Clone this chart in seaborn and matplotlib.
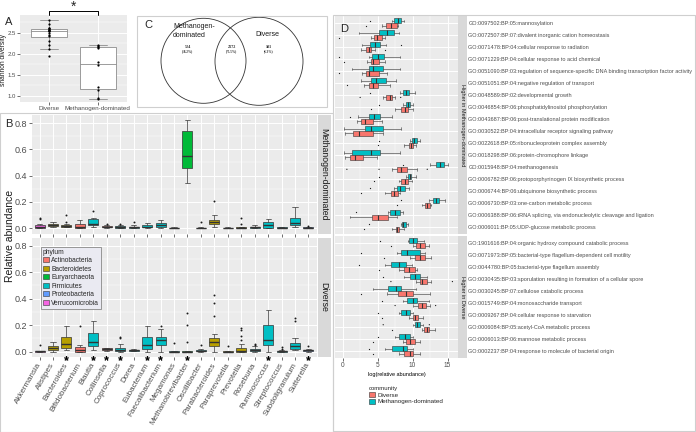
import pandas as pd
import matplotlib
matplotlib.use("Agg")
import matplotlib.pyplot as plt
import matplotlib.transforms as mtransforms
import seaborn as sns
from matplotlib.patches import Patch, Circle, Rectangle
from matplotlib.ticker import MultipleLocator

W, H = 696, 432

# ---------------- panel A : shannon diversity ----------------
shannon_groups = ["Diverse", "Methanogen-dominated"]
shannon_diverse = [2.79, 2.70, 2.62, 2.60, 2.58, 2.57, 2.56, 2.55, 2.54, 2.49,
                   2.44, 2.42, 2.31, 2.21, 2.12, 1.94]
shannon_methano = [2.21, 2.19, 2.15, 2.14, 1.81, 1.72, 1.20, 1.13, 0.94, 0.93]

# ---------------- panel C : venn ----------------
venn_counts = ["524", "2172", "181"]
venn_pcts = ["(18.2%)", "(75.5%)", "(6.3%)"]

# ---------------- panel B : genus abundance ----------------
genera = ["Akkermansia", "Alistipes", "Bacteroides", "Bifidobacterium", "Blautia",
          "Collinsella", "Coprococcus", "Dorea", "Eubacterium", "Faecalibacterium",
          "Megamonas", "Methanobrevibacter", "Oscillibacter", "Parabacteroides",
          "Paraprevotella", "Prevotella", "Roseburia", "Ruminococcus",
          "Streptococcus", "Subdoligranulum", "Sutterella"]
genus_phylum = ["Verrucomicrobia", "Bacteroidetes", "Bacteroidetes", "Actinobacteria",
                "Firmicutes", "Actinobacteria", "Firmicutes", "Firmicutes", "Firmicutes",
                "Firmicutes", "Firmicutes", "Euryarchaeota", "Firmicutes", "Bacteroidetes",
                "Bacteroidetes", "Bacteroidetes", "Firmicutes", "Firmicutes", "Firmicutes",
                "Firmicutes", "Proteobacteria"]
phyla = ["Actinobacteria", "Bacteroidetes", "Euryarchaeota", "Firmicutes",
         "Proteobacteria", "Verrucomicrobia"]
phylum_colors = ["#F8766D", "#B79F00", "#00BA38", "#00BFC4", "#619CFF", "#F564E3"]
signif_genera = ["Bacteroides", "Blautia", "Collinsella", "Coprococcus", "Eubacterium",
                 "Faecalibacterium", "Methanobrevibacter", "Ruminococcus", "Sutterella"]

# [min, q1, median, q3, max] per genus, methanogen-dominated samples
md_box = [[0, 0.003, 0.01, 0.02, 0.03], [0.01, 0.015, 0.02, 0.03, 0.05],
          [0.005, 0.01, 0.015, 0.02, 0.03], [0, 0.002, 0.01, 0.03, 0.06],
          [0.01, 0.02, 0.03, 0.07, 0.08], [0.002, 0.005, 0.01, 0.015, 0.02],
          [0, 0.002, 0.005, 0.015, 0.02], [0, 0.001, 0.005, 0.01, 0.02],
          [0, 0.005, 0.01, 0.02, 0.04], [0, 0.01, 0.025, 0.04, 0.065],
          [0, 0, 0.001, 0.003, 0.005], [0.34, 0.46, 0.55, 0.74, 0.82],
          [0, 0, 0.002, 0.004, 0.006], [0.01, 0.03, 0.045, 0.06, 0.1],
          [0, 0, 0.001, 0.003, 0.006], [0, 0, 0.002, 0.005, 0.01],
          [0, 0.002, 0.005, 0.01, 0.02], [0, 0.002, 0.025, 0.05, 0.07],
          [0, 0, 0.002, 0.005, 0.008], [0.01, 0.02, 0.04, 0.08, 0.16],
          [0, 0.002, 0.004, 0.008, 0.01]]
md_out = [[0.07, 0.08], [], [0.05, 0.1], [], [0.13], [0.03], [0.03], [0.05], [], [],
          [], [], [0.05], [0.21], [], [0.03, 0.08], [], [], [], [], [0.015]]
# diverse samples
dv_box = [[0, 0, 0.001, 0.002, 0.004], [0, 0.01, 0.025, 0.045, 0.075],
          [0.01, 0.03, 0.055, 0.11, 0.19], [0, 0, 0.01, 0.035, 0.05],
          [0.01, 0.04, 0.075, 0.14, 0.23], [0.005, 0.01, 0.02, 0.025, 0.03],
          [0, 0.002, 0.015, 0.03, 0.06], [0.002, 0.005, 0.01, 0.015, 0.02],
          [0, 0.02, 0.05, 0.11, 0.19], [0, 0.05, 0.085, 0.11, 0.17],
          [0, 0, 0, 0.001, 0.002], [0, 0, 0, 0.001, 0.002],
          [0, 0.001, 0.005, 0.01, 0.02], [0, 0.04, 0.075, 0.1, 0.13],
          [0, 0, 0, 0.001, 0.002], [0, 0, 0.005, 0.03, 0.06],
          [0, 0.005, 0.01, 0.02, 0.04], [0, 0.05, 0.085, 0.2, 0.31],
          [0, 0, 0.002, 0.005, 0.01], [0.01, 0.02, 0.04, 0.065, 0.1],
          [0, 0.005, 0.01, 0.015, 0.02]]
dv_out = [[0.05], [], [], [0.19], [], [], [0.1, 0.11], [], [], [0.19], [0.065],
          [0.07, 0.2, 0.29], [0.05], [0.27, 0.37, 0.43], [0.04],
          [0.09, 0.12, 0.16, 0.18], [0.05, 0.06], [], [0.02, 0.035], [0.23, 0.25], [0.04]]

# ---------------- panel D : GO terms ----------------
communities = ["Methanogen-dominated", "Diverse"]
comm_colors = {"Diverse": "#F8766D", "Methanogen-dominated": "#00BFC4"}

go_up_md = ["GO:0097502:BP:05:mannosylation",
            "GO:0072507:BP:07:divalent inorganic cation homeostasis",
            "GO:0071478:BP:04:cellular response to radiation",
            "GO:0071229:BP:04:cellular response to acid chemical",
            "GO:0051090:BP:03:regulation of sequence-specific DNA binding transcription factor activity",
            "GO:0051051:BP:04:negative regulation of transport",
            "GO:0048589:BP:02:developmental growth",
            "GO:0046854:BP:06:phosphatidylinositol phosphorylation",
            "GO:0043687:BP:06:post-translational protein modification",
            "GO:0030522:BP:04:intracellular receptor signaling pathway",
            "GO:0022618:BP:05:ribonucleoprotein complex assembly",
            "GO:0018298:BP:06:protein-chromophore linkage",
            "GO:0015948:BP:04:methanogenesis",
            "GO:0006782:BP:06:protoporphyrinogen IX biosynthetic process",
            "GO:0006744:BP:06:ubiquinone biosynthetic process",
            "GO:0006730:BP:03:one-carbon metabolic process",
            "GO:0006388:BP:06:tRNA splicing, via endonucleolytic cleavage and ligation",
            "GO:0006011:BP:05:UDP-glucose metabolic process"]
go_up_md_meth = [[7.1, 7.3, 7.9, 8.4, 8.8], [2.4, 5.2, 6.3, 7.3, 8.1], [2.8, 3.9, 4.6, 5.4, 6.2],
                 [3.8, 4.2, 5.1, 5.95, 8.2], [1.4, 3.7, 4.4, 5.7, 8.2], [2.6, 4.0, 4.8, 6.2, 7.6],
                 [8.2, 8.6, 9.0, 9.5, 10.4], [8.7, 9.0, 9.3, 9.6, 10.1], [2.2, 3.8, 4.5, 5.3, 7.0],
                 [0.2, 3.2, 4.0, 5.8, 8.4], [9.6, 9.9, 10.2, 10.6, 11.1], [0.2, 1.4, 4.05, 5.3, 8.2],
                 [12.5, 13.3, 13.9, 14.5, 15.0], [9.0, 9.3, 9.6, 9.8, 10.5], [7.3, 7.7, 8.2, 8.9, 9.5],
                 [12.4, 12.9, 13.3, 13.8, 14.6], [6.5, 6.8, 7.5, 8.2, 8.6], [8.3, 8.5, 8.7, 9.0, 9.4]]
go_up_md_div = [[5.6, 6.2, 6.9, 7.7, 7.9], [4.1, 4.5, 4.9, 5.6, 6.0], [2.6, 3.3, 3.7, 4.1, 4.6],
                [3.5, 4.0, 4.4, 5.2, 6.0], [2.7, 3.3, 3.8, 5.2, 6.4], [3.0, 3.7, 4.3, 5.0, 6.8],
                [5.8, 6.2, 6.7, 7.1, 7.5], [7.5, 8.4, 8.9, 9.4, 10.1], [2.0, 2.6, 3.2, 4.3, 5.6],
                [0.3, 1.5, 2.4, 4.4, 5.8], [8.8, 9.5, 9.8, 10.1, 10.5], [0.3, 1.0, 1.8, 2.9, 4.9],
                [7.0, 7.7, 8.3, 9.2, 10.7], [8.0, 8.3, 8.9, 9.4, 9.9], [6.0, 6.9, 7.3, 7.9, 8.2],
                [11.4, 11.8, 12.1, 12.5, 12.6], [1.0, 4.2, 5.1, 6.5, 7.7], [7.0, 7.6, 7.8, 8.0, 8.8]]
go_up_md_meth_out = [[3.9], [], [8.4], [-0.5], [], [], [3.9], [5.2], [1.0], [], [5.2], [],
                     [8.7], [5.2], [3.9], [8.3], [1.9], [3.8]]
go_up_md_div_out = [[3.4], [-0.5], [6.0], [0.2], [-0.5], [0.6], [2.5, 8.3], [4.1], [], [], [5.1], [],
                    [0.6, 5.2, 12.1], [4.5], [2.6], [7.7], [], [3.0]]

go_up_dv = ["GO:1901616:BP:04:organic hydroxy compound catabolic process",
            "GO:0071973:BP:05:bacterial-type flagellum-dependent cell motility",
            "GO:0044780:BP:05:bacterial-type flagellum assembly",
            "GO:0030435:BP:03:sporulation resulting in formation of a cellular spore",
            "GO:0030245:BP:07:cellulose catabolic process",
            "GO:0015749:BP:04:monosaccharide transport",
            "GO:0009267:BP:04:cellular response to starvation",
            "GO:0006084:BP:05:acetyl-CoA metabolic process",
            "GO:0006013:BP:06:mannose metabolic process",
            "GO:0002237:BP:04:response to molecule of bacterial origin"]
go_up_dv_meth = [[9.4, 9.5, 10.0, 10.6, 11.6], [7.7, 8.4, 9.2, 11.0, 11.8], [6.0, 6.9, 8.0, 9.1, 9.9],
                 [8.8, 9.6, 10.3, 11.0, 12.0], [4.3, 6.5, 7.6, 8.3, 10.5], [8.7, 9.2, 10.0, 10.7, 12.4],
                 [8.0, 8.4, 9.0, 9.6, 10.0], [10.0, 10.3, 10.7, 11.1, 11.5], [7.5, 8.0, 8.9, 9.6, 10.1],
                 [6.0, 7.1, 8.7, 9.2, 10.1]]
go_up_dv_div = [[10.1, 10.5, 11.0, 11.8, 12.4], [9.6, 10.3, 11.0, 11.8, 12.7], [8.0, 8.8, 9.5, 10.3, 10.7],
                [10.5, 11.0, 11.4, 12.0, 12.7], [6.3, 7.9, 9.0, 10.1, 12.5], [10.1, 10.8, 11.3, 11.9, 12.5],
                [9.5, 10.0, 10.3, 10.8, 11.5], [11.3, 11.6, 12.0, 12.4, 13.2], [8.7, 9.1, 9.6, 10.3, 11.0],
                [8.0, 8.8, 9.6, 10.1, 11.0]]
go_up_dv_meth_out = [[5.3], [2.6], [2.4], [5.8], [], [5.6], [5.1], [5.8, 12.4], [5.1], [3.8]]
go_up_dv_div_out = [[6.9], [5.9], [5.2], [6.9, 15.7], [2.6], [7.5, 13.3], [5.6], [7.1], [4.4], [4.4]]


def rect(l, t, r, b):
    """pixel box (left, top, right, bottom) -> figure fraction"""
    return [l / W, 1 - b / H, (r - l) / W, (b - t) / H]


def gg_axes(ax, size):
    ax.set_facecolor("#EBEBEB")
    for s in ax.spines.values():
        s.set_visible(False)
    ax.set_axisbelow(True)
    ax.grid(True, which="major", color="white", lw=0.7)
    ax.grid(True, which="minor", color="white", lw=0.35)
    ax.tick_params(which="major", length=2, width=0.5, color="#333333",
                   labelcolor="#4d4d4d", labelsize=size, pad=1,
                   bottom=True, left=True)
    ax.tick_params(which="minor", length=0)
    ax.set_xlabel("")
    ax.set_ylabel("")


def strip(fig, box, label, size):
    sax = fig.add_axes(rect(*box))
    sax.set_facecolor("#D9D9D9")
    sax.set_xticks([])
    sax.set_yticks([])
    sax.grid(False)
    for s in sax.spines.values():
        s.set_visible(False)
    sax.text(0.5, 0.5, label, rotation=-90, ha="center", va="center",
             fontsize=size, color="#1a1a1a", transform=sax.transAxes)


def frame(fig, l, t, r, b):
    fig.add_artist(Rectangle((l / W, 1 - b / H), (r - l) / W, (b - t) / H,
                             transform=fig.transFigure, fill=False,
                             ec="#cfcfcf", lw=0.8))


def draw_genus_facet(ax, stats, outliers):
    box_df = pd.DataFrame([(g, p, v) for g, p, s in zip(genera, genus_phylum, stats) for v in s],
                          columns=["genus", "phylum", "value"])
    out_df = pd.DataFrame([(g, v) for g, o in zip(genera, outliers) for v in o],
                          columns=["genus", "value"])
    sns.boxplot(data=box_df, x="genus", y="value", hue="phylum", order=genera,
                hue_order=phyla, palette=phylum_colors, dodge=False, whis=(0, 100),
                showfliers=False, width=0.75, saturation=1, linecolor="#333333",
                linewidth=0.5, medianprops={"linewidth": 1.0}, legend=False, ax=ax)
    sns.stripplot(data=out_df, x="genus", y="value", order=genera, color="#1a1a1a",
                  size=1.4, jitter=False, ax=ax)
    gg_axes(ax, 6.5)
    ax.set_xlim(-0.6, len(genera) - 0.4)
    ax.set_ylim(-0.041, 0.861)
    ax.set_yticks([0, 0.2, 0.4, 0.6, 0.8])
    ax.set_yticklabels(["0.0", "0.2", "0.4", "0.6", "0.8"])
    ax.yaxis.set_minor_locator(MultipleLocator(0.1))
    ax.set_xticks(range(len(genera)))


def draw_go_facet(ax, terms, meth, div, meth_out, div_out):
    rows = []
    orows = []
    for t, ms, ds, mo, do in zip(terms, meth, div, meth_out, div_out):
        rows += [(t, "Methanogen-dominated", v) for v in ms]
        rows += [(t, "Diverse", v) for v in ds]
        orows += [(t, "Methanogen-dominated", v) for v in mo]
        orows += [(t, "Diverse", v) for v in do]
    df = pd.DataFrame(rows, columns=["term", "community", "value"])
    odf = pd.DataFrame(orows, columns=["term", "community", "value"])
    sns.boxplot(data=df, x="value", y="term", hue="community", order=terms,
                hue_order=communities, palette=comm_colors, whis=(0, 100),
                showfliers=False, width=0.8, saturation=1, linecolor="#333333",
                linewidth=0.4, medianprops={"linewidth": 0.8}, legend=False, ax=ax)
    sns.stripplot(data=odf, x="value", y="term", hue="community", order=terms,
                  hue_order=communities, palette={c: "#1a1a1a" for c in communities},
                  dodge=True, jitter=False, size=0.9, legend=False, ax=ax)
    gg_axes(ax, 4.7)
    ax.set_xlim(-1.1, 16.5)
    ax.set_ylim(len(terms) - 0.4, -0.6)
    ax.set_xticks([0, 5, 10, 15])
    ax.xaxis.set_minor_locator(MultipleLocator(2.5))
    ax.set_yticks(range(len(terms)))
    ax.set_yticklabels(terms)
    ax.yaxis.tick_right()
    ax.tick_params(axis="y", length=0, pad=7.5, labelsize=4.0, labelcolor="#4d4d4d",
                   left=False, right=True)


sns.set_theme(style="darkgrid")
plt.rcParams["font.family"] = ["Liberation Sans", "DejaVu Sans"]

fig = plt.figure(figsize=(W / 100, H / 100), dpi=100)
fig.patch.set_facecolor("white")

# ---------------- A ----------------
axA = fig.add_axes(rect(20, 15, 127, 102))
dfA = pd.DataFrame({"group": ["Diverse"] * len(shannon_diverse) + ["Methanogen-dominated"] * len(shannon_methano),
                    "value": shannon_diverse + shannon_methano})
sns.boxplot(data=dfA, x="group", y="value", order=shannon_groups, color="white",
            linecolor="#8c8c8c", linewidth=0.6, showfliers=False, width=0.75, ax=axA)
sns.stripplot(data=dfA, x="group", y="value", order=shannon_groups, color="black",
              size=1.6, jitter=False, ax=axA)
gg_axes(axA, 4.3)
axA.set_xlim(-0.6, 1.6)
axA.set_ylim(0.85, 2.92)
axA.set_yticks([1.0, 1.5, 2.0, 2.5])
axA.yaxis.set_minor_locator(MultipleLocator(0.25))
axA.tick_params(axis="x", labelsize=4.5)
fig.text(4 / W, 1 - 60 / H, "shannon diversity", rotation=90, fontsize=4.8,
         ha="center", va="center", color="#1a1a1a")
trA = axA.get_xaxis_transform()
axA.plot([0, 0, 1, 1], [1.0, 1.05, 1.05, 1.0], transform=trA, clip_on=False,
         color="black", lw=0.7)
axA.text(0.5, 1.09, "*", transform=trA, ha="center", va="center", fontsize=10)
fig.text(5 / W, 1 - 22 / H, "A", fontsize=8, ha="left", va="center")

# ---------------- C ----------------
frame(fig, 137, 16, 327, 107)
axC = fig.add_axes(rect(137, 16, 327, 107))
axC.set_xlim(137, 327)
axC.set_ylim(107, 16)
axC.axis("off")
axC.add_patch(Circle((203.5, 60.8), 42.5, fill=False, ec="#333333", lw=0.6))
axC.add_patch(Circle((259, 61.3), 44, fill=False, ec="#333333", lw=0.6))
axC.text(173, 31, "Methanogen-\ndominated", ha="left", va="center", fontsize=5,
         linespacing=1.3, color="#1a1a1a")
axC.text(267, 35, "Diverse", ha="center", va="center", fontsize=5, color="#1a1a1a")
for xc, n, p in zip([188, 231.7, 268.3], venn_counts, venn_pcts):
    axC.text(xc, 47.5, n, ha="center", va="center", fontsize=3, family="Liberation Serif",
             fontweight="bold")
    axC.text(xc, 51.5, p, ha="center", va="center", fontsize=2.3, family="Liberation Serif",
             fontweight="bold")
fig.text(148 / W, 1 - 25 / H, "C", fontsize=8, ha="center", va="center")

# ---------------- B ----------------
frame(fig, 0, 113, 333, 432)
axB1 = fig.add_axes(rect(31.5, 115, 316.5, 233.5))
axB2 = fig.add_axes(rect(31.5, 237.5, 316.5, 357))
draw_genus_facet(axB1, md_box, md_out)
draw_genus_facet(axB2, dv_box, dv_out)
axB1.tick_params(axis="x", labelbottom=False)
axB2.set_xticklabels(genera, rotation=60, ha="right", va="center",
                     rotation_mode="anchor", fontsize=5.8)
axB2.tick_params(axis="x", pad=2.5)
trB = mtransforms.blended_transform_factory(axB2.transData, axB2.transAxes)
for g in signif_genera:
    axB2.text(genera.index(g), 0.015, "*", transform=trB, ha="center", va="top",
              fontsize=9, fontweight="bold", color="black", clip_on=False)
strip(fig, (317.5, 115, 331, 233.5), "Methanogen-dominated", 6.3)
strip(fig, (317.5, 237.5, 331, 357), "Diverse", 6.3)
fig.text(10 / W, 1 - 236 / H, "Relative abundance", rotation=90, fontsize=7.5,
         ha="center", va="center", color="#1a1a1a")
fig.text(5 / W, 1 - 124 / H, "B", fontsize=8, ha="left", va="center")
handlesB = [Patch(facecolor=c, edgecolor="#333333", lw=0.4, label=p)
            for p, c in zip(phyla, phylum_colors)]
legB = axB2.legend(handles=handlesB, title="phylum", loc="upper left",
                   bbox_to_anchor=(0.032, 0.923), borderaxespad=0, fontsize=4.8,
                   title_fontsize=4.8, handlelength=1.0, handleheight=0.8,
                   handletextpad=0.3, labelspacing=0.22, borderpad=0.3,
                   fancybox=False, framealpha=1, edgecolor="#888888",
                   alignment="left")
legB.get_frame().set_linewidth(0.6)

# ---------------- D ----------------
frame(fig, 333, 15, 695, 431)
axD1 = fig.add_axes(rect(335, 16, 458, 234))
axD2 = fig.add_axes(rect(335, 236, 458, 358.3))
draw_go_facet(axD1, go_up_md, go_up_md_meth, go_up_md_div, go_up_md_meth_out, go_up_md_div_out)
draw_go_facet(axD2, go_up_dv, go_up_dv_meth, go_up_dv_div, go_up_dv_meth_out, go_up_dv_div_out)
axD1.tick_params(axis="x", labelbottom=False, length=0)
axD2.set_xlabel("log(relative abundance)", fontsize=4, labelpad=2, color="black")
strip(fig, (458, 16, 467, 234), "Higher in Methanogen-dominated", 4)
strip(fig, (458, 236, 467, 358.3), "Higher in Diverse", 4)
fig.text(344 / W, 1 - 29 / H, "D", fontsize=8, ha="center", va="center")
handlesD = [Patch(facecolor=comm_colors[c], edgecolor="#333333", lw=0.4, label=c)
            for c in ["Diverse", "Methanogen-dominated"]]
fig.legend(handles=handlesD, title="community", loc="upper left",
           bbox_to_anchor=(366 / W, 1 - 383 / H), frameon=False, fontsize=4.5,
           title_fontsize=4.3, handlelength=1.0, handleheight=0.9,
           handletextpad=0.3, labelspacing=0.15, borderpad=0, alignment="left")

fig.savefig("out.png", dpi=100, facecolor="white")
